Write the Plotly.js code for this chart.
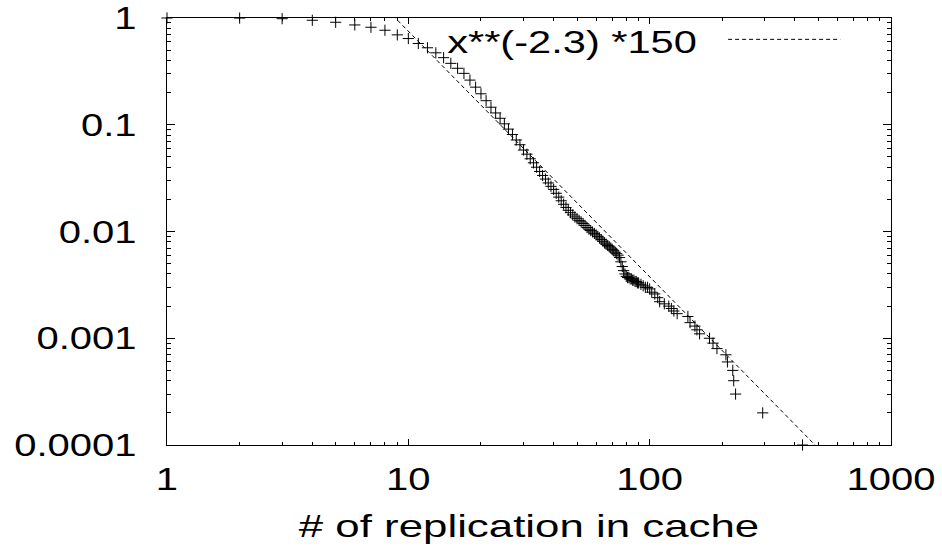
<!DOCTYPE html>
<html>
<head>
<meta charset="utf-8">
<script src="https://cdn.plot.ly/plotly-3.0.1.min.js"></script>
<style>
  html, body { margin: 0; padding: 0; background: #fff; }
  #chart { width: 942px; height: 552px; }
</style>
</head>
<body>
<div id="chart"></div>
<script>
// ---- data ----
const replication = [1,2,3,4,5,6,7,8,9,10,11,12,13,14,15,16,17,18,19,20,
  21,22,23,24,25,26,27,28,29,30,31,32,33,34,35,36,37,38,39,40,
  41,42,43,44,45,46,47,48,49,50,51,52,53,54,55,56,57,58,59,60,
  61,62,63,64,65,66,67,68,69,70,71,72,73,74,75,76,77,78,79,80,
  81,82,83,84,85,86,87,88,89,90,92,94,96,98,100,102,105,108,110,
  115,120,123,126,130,144,147,154,157,161,177,183,190,207,210,221,223,227,294,430];
const fraction = [1,0.998,0.985,0.952,0.912,0.861,0.819,0.768,0.695,0.642,0.577,0.526,0.472,0.425,0.376,0.338,0.303,0.262,0.225,0.195,
  0.168,0.146,0.129,0.115,0.102,0.091,0.081,0.072,0.065,0.058,0.053,0.048,0.044,0.040,0.0365,0.0335,0.031,0.0285,0.0265,0.0248,
  0.0228,0.0210,0.0194,0.0180,0.0168,0.0158,0.0150,0.0143,0.0137,0.0132,0.0127,0.0123,0.0119,0.0114,0.0109,0.0105,0.0102,0.0099,0.0096,0.0093,
  0.0090,0.0087,0.0084,0.0081,0.0078,0.0076,0.0074,0.0072,0.0070,0.0068,0.0066,0.0064,0.0062,0.0060,0.0057,0.0052,0.0047,0.0043,0.0040,0.0038,
  0.0037,0.0037,0.0036,0.0036,0.0035,0.0035,0.0034,0.0034,0.0033,0.0033,0.0032,0.0031,0.0030,0.0030,0.0029,0.0027,0.0026,0.0024,0.0022,
  0.0021,0.0020,0.0019,0.0018,0.0017,0.0016,0.0014,0.0013,0.0012,0.0011,0.0010,0.0009,0.0008,0.0007,0.0006,0.0005,0.0004,0.0003,0.0002,0.0001];

// fitted curve x**(-2.3)*150 evaluated at the ends of the x range
const fitX = [1, 1000];
const fitY = [150, 1.888e-5];
const fitLabel = 'x**(-2.3) *150';

const xTickVals = [1, 10, 100, 1000];
const xTickText = ['1', '10', '100', '1000'];
const yTickVals = [0.0001, 0.001, 0.01, 0.1, 1];
const yTickText = ['0.0001', '0.001', '0.01', '0.1', '1'];
const xTitle = '# of replication in cache';

// minor tick positions (2..9 within each decade)
function minorTicks(lo, hi) {
  const out = [];
  for (let e = lo; e < hi; e++) for (let d = 2; d <= 9; d++) out.push(d * Math.pow(10, e));
  return out;
}

const FONT = 'Liberation Sans, Arial, Helvetica, sans-serif';

const traces = [
  {
    x: replication, y: fraction, type: 'scatter', mode: 'markers',
    marker: { symbol: 'cross-thin', size: 8, color: '#000', line: { width: 1, color: '#000' } },
    cliponaxis: false, showlegend: false, hoverinfo: 'skip'
  },
  {
    x: fitX, y: fitY, type: 'scatter', mode: 'lines',
    line: { color: '#000', width: 1, dash: '4px,3px' },
    showlegend: false, hoverinfo: 'skip'
  }
];

const axisCommon = {
  type: 'log', showline: true, linecolor: '#000', linewidth: 1,
  mirror: 'ticks', ticks: 'inside', tickcolor: '#000', tickwidth: 1,
  showgrid: false, zeroline: false, ticklabeloverflow: 'allow',
  tickfont: { family: FONT, size: 32, color: '#000' }
};

const layout = {
  width: 942, height: 552,
  margin: { l: 167, r: 51, t: 18, b: 107 },
  paper_bgcolor: '#fff', plot_bgcolor: '#fff',
  showlegend: false,
  xaxis: Object.assign({}, axisCommon, {
    range: [0, 3], tickmode: 'array', tickvals: xTickVals, ticktext: xTickText,
    ticklen: 6, ticklabelstandoff: 6,
    minor: { tickmode: 'array', tickvals: minorTicks(0, 3), ticks: 'inside', ticklen: 3, tickcolor: '#000', showgrid: false },
    title: { text: xTitle, font: { family: FONT, size: 32, color: '#000' }, standoff: 18 },
    automargin: false
  }),
  yaxis: Object.assign({}, axisCommon, {
    range: [-4, 0], tickmode: 'array', tickvals: yTickVals, ticktext: yTickText,
    ticklen: 8, ticklabelstandoff: 23,
    minor: { tickmode: 'array', tickvals: minorTicks(-4, 0), ticks: 'inside', ticklen: 4, tickcolor: '#000', showgrid: false },
    automargin: false
  }),
  annotations: [{
    xref: 'paper', yref: 'paper', x: 0.560, y: 0.9445,
    xanchor: 'center', yanchor: 'middle', showarrow: false,
    text: fitLabel, font: { family: FONT, size: 32, color: '#000' }
  }],
  shapes: [{
    type: 'line', xref: 'paper', yref: 'paper',
    x0: 0.775, x1: 0.930, y0: 0.950, y1: 0.950,
    line: { color: '#000', width: 1, dash: '4px,3px' }
  }]
};

// the reference lettering is horizontally widened; mimic by scaling text about its anchor
function widenText(gd) {
  const rules = [
    ['.xtick text, .ytick text', 1.25],
    ['.g-xtitle text', 1.37],
    ['.annotation text', 1.30]
  ];
  rules.forEach(([sel, s]) => {
    gd.querySelectorAll(sel).forEach(el => {
      const bb = el.getBBox();
      const anchor = el.getAttribute('text-anchor') || 'start';
      let ax = bb.x + bb.width / 2;
      if (anchor === 'start') ax = bb.x;
      else if (anchor === 'end') ax = bb.x + bb.width;
      const t = el.getAttribute('transform') || '';
      el.setAttribute('transform', (t + ' translate(' + ax + ',0) scale(' + s + ',1) translate(' + (-ax) + ',0)').trim());
    });
  });
}

Plotly.newPlot('chart', traces, layout, { staticPlot: true, displayModeBar: false })
  .then(gd => widenText(gd));
</script>
</body>
</html>
